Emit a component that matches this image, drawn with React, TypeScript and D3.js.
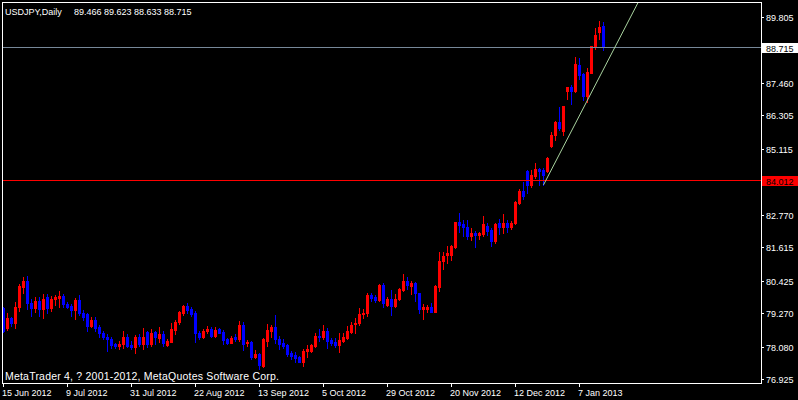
import { scaleLinear } from "d3";

// daily USDJPY bars, 15 Jun 2012 .. 15 Jan 2013
const opens = [
  79.446, 78.759, 79.091, 78.913, 79.505, 80.216, 80.417, 79.624, 79.47, 79.707,
  79.411, 79.837, 79.47, 79.766, 79.825, 79.884, 79.612, 79.529, 79.387, 79.742,
  79.269, 79.233, 78.831, 79.032, 78.795, 78.558, 78.44, 78.345, 78.191, 78.12,
  78.167, 78.416, 78.143, 78.084, 78.439, 78.179, 78.593, 78.179, 78.593, 78.404,
  78.522, 78.143, 78.262, 78.676, 78.948, 79.292, 79.528, 79.41, 79.292, 78.581,
  78.439, 78.652, 78.712, 78.463, 78.7, 78.617, 78.344, 78.226, 78.439, 78.344,
  78.854, 78.202, 78.262, 77.706, 77.824, 77.41, 78.298, 78.641, 78.772, 78.345,
  78.203, 78.144, 77.848, 77.789, 77.706, 77.552, 77.931, 77.931, 78.108, 78.476,
  78.416, 78.641, 78.322, 78.262, 78.144, 78.286, 78.404, 78.618, 78.878, 78.914,
  79.233, 79.269, 79.92, 79.85, 79.742, 80.275, 79.564, 79.778, 79.541, 79.766,
  80.097, 80.417, 80.239, 80.334, 79.979, 79.422, 79.422, 79.482, 79.328, 80.192,
  81.127, 81.34, 81.34, 81.636, 82.501, 82.442, 82.347, 82.015, 82.134, 82.051,
  82.074, 82.37, 82.228, 81.85, 82.465, 82.323, 82.489, 82.323, 82.465, 83.199,
  83.626, 84.324, 83.827, 84.146, 84.395, 84.36, 84.324, 85.212, 85.603, 86.076,
  85.745, 87.178, 87.296, 87.178, 88.089, 87.77, 87.0, 87.817, 88.74, 89.25,
  89.466,
];
const highs = [
  79.505, 79.269, 79.127, 79.659, 80.311, 80.547, 80.595, 79.766, 79.837, 79.837,
  79.955, 79.955, 79.884, 79.92, 80.062, 79.955, 79.683, 79.6, 79.801, 79.92,
  79.387, 79.292, 79.15, 79.127, 78.854, 78.641, 78.535, 78.416, 78.227, 78.286,
  78.641, 78.534, 78.285, 78.498, 78.534, 78.759, 78.652, 78.7, 78.652, 78.771,
  78.64, 78.356, 78.913, 79.031, 79.351, 79.564, 79.623, 79.481, 79.351, 78.652,
  78.7, 78.818, 78.771, 78.771, 78.759, 78.676, 78.38, 78.475, 78.534, 78.996,
  78.972, 78.321, 78.297, 77.966, 77.872, 78.404, 78.89, 78.854, 79.21, 78.464,
  78.345, 78.18, 77.931, 77.884, 77.753, 77.99, 78.144, 78.18, 78.582, 78.7,
  78.854, 78.736, 78.381, 78.381, 78.582, 78.582, 78.819, 78.973, 79.091, 79.47,
  79.411, 79.979, 79.979, 79.91, 80.31, 80.334, 79.837, 80.097, 79.943, 80.18,
  80.666, 80.547, 80.417, 80.393, 80.002, 79.6, 79.564, 79.647, 80.275, 81.459,
  81.435, 81.66, 81.696, 82.524, 82.82, 82.584, 82.584, 82.288, 82.193, 82.169,
  82.726, 82.465, 82.288, 82.465, 82.619, 82.797, 82.584, 82.56, 83.27, 83.673,
  83.945, 84.36, 84.36, 84.62, 84.442, 84.419, 84.833, 85.698, 86.112, 86.609,
  86.633, 87.296, 87.379, 88.385, 88.326, 87.817, 87.971, 88.776, 89.392, 89.652,
  89.623,
];
const lows = [
  78.617, 78.677, 78.819, 78.736, 79.363, 79.979, 79.411, 79.186, 79.304, 79.186,
  79.115, 79.269, 79.351, 79.565, 79.505, 79.482, 79.446, 79.186, 79.067, 79.209,
  79.032, 78.653, 78.795, 78.653, 78.416, 78.345, 77.931, 78.049, 78.025, 77.99,
  78.025, 78.084, 78.001, 77.871, 78.12, 78.001, 78.084, 78.12, 78.179, 78.262,
  78.12, 78.12, 78.238, 78.534, 78.877, 79.209, 79.268, 79.185, 78.262, 78.344,
  78.404, 78.581, 78.416, 78.416, 78.558, 78.167, 78.179, 78.202, 78.285, 78.297,
  77.966, 78.12, 77.646, 77.67, 77.28, 77.374, 78.12, 78.44, 78.227, 77.99,
  78.026, 77.765, 77.635, 77.552, 77.528, 77.398, 77.706, 77.884, 78.085, 78.286,
  78.345, 78.049, 78.144, 78.061, 77.907, 78.239, 78.357, 78.558, 78.582, 78.854,
  79.115, 79.186, 79.719, 79.67, 79.718, 79.482, 79.529, 79.209, 79.505, 79.742,
  80.062, 80.121, 79.943, 79.706, 79.292, 79.055, 79.328, 79.304, 79.304, 80.074,
  80.831, 81.044, 81.163, 81.601, 82.169, 82.027, 81.897, 81.873, 81.636, 81.897,
  82.027, 82.051, 81.672, 81.755, 82.086, 82.134, 82.169, 82.264, 82.442, 83.152,
  83.318, 83.531, 83.768, 84.087, 83.827, 83.827, 84.3, 85.188, 85.425, 85.78,
  85.603, 86.882, 86.704, 87.142, 87.58, 86.846, 86.787, 87.793, 88.646, 89.013,
  88.633,
];
const closes = [
  78.653, 79.091, 78.913, 79.482, 80.239, 80.417, 79.624, 79.47, 79.707, 79.411,
  79.778, 79.47, 79.766, 79.861, 79.896, 79.612, 79.494, 79.399, 79.742, 79.269,
  79.15, 78.831, 79.032, 78.759, 78.558, 78.44, 78.345, 78.144, 78.12, 78.191,
  78.416, 78.12, 78.084, 78.416, 78.179, 78.439, 78.179, 78.558, 78.416, 78.522,
  78.202, 78.285, 78.7, 78.948, 79.304, 79.528, 79.386, 79.244, 78.558, 78.416,
  78.64, 78.712, 78.463, 78.676, 78.581, 78.321, 78.226, 78.38, 78.344, 78.854,
  78.179, 78.262, 77.729, 77.812, 77.434, 78.357, 78.677, 78.772, 78.345, 78.18,
  78.108, 77.812, 77.753, 77.694, 77.552, 77.931, 77.99, 78.144, 78.464, 78.416,
  78.641, 78.286, 78.203, 78.144, 78.322, 78.44, 78.641, 78.854, 78.937, 79.245,
  79.292, 79.92, 79.825, 79.742, 80.275, 79.624, 79.778, 79.541, 79.778, 80.133,
  80.417, 80.275, 80.358, 79.979, 79.422, 79.482, 79.482, 79.328, 80.239, 81.127,
  81.305, 81.4, 81.66, 82.501, 82.406, 82.347, 82.015, 82.134, 82.051, 82.11,
  82.442, 82.193, 81.85, 82.442, 82.323, 82.489, 82.323, 82.489, 83.235, 83.626,
  83.436, 83.827, 84.182, 84.395, 84.324, 84.182, 84.798, 85.603, 86.076, 85.84,
  86.633, 87.296, 87.178, 88.125, 87.734, 87.0, 87.852, 88.764, 89.155, 89.451,
  88.715,
];

const dateLabels = [
  "15 Jun 2012", "9 Jul 2012", "31 Jul 2012", "22 Aug 2012", "13 Sep 2012",
  "5 Oct 2012", "29 Oct 2012", "20 Nov 2012", "12 Dec 2012", "7 Jan 2013",
];
const dateLabelBars = [0, 16, 32, 48, 64, 80, 96, 112, 128, 144];
// the two ticks hidden under the price boxes are left out
const priceTicks = [
  89.805, 87.46, 86.305, 85.115, 82.77, 81.615, 80.425, 79.27, 78.08, 76.925,
];
const bidPrice = 88.715;
const hLinePrice = 84.012;
const trendBars = [135, 150];
const trendPrices = [83.83, 87.94];

const W = 798;
const H = 400;
const left = 2;
const top = 2;
const right = 761;
const bottom = 383;
const font = "'Liberation Sans', Arial, sans-serif";

export default function App() {
  const n = closes.length;
  const x = scaleLinear().domain([0, n - 1]).range([3.5, 603.5]);
  const y = scaleLinear().domain([76.925, 89.805]).range([379.3, 16.7]);
  const py = (p: number) => Math.round(y(p));

  // trendline as a ray from the first anchor, clipped by the frame
  const slope = (trendPrices[1] - trendPrices[0]) / (trendBars[1] - trendBars[0]);
  const farBar = trendBars[0] + 60;
  const farPrice = trendPrices[0] + slope * 60;

  const last = n - 1;
  const ohlc = [opens[last], highs[last], lows[last], closes[last]]
    .map((v) => v.toFixed(3))
    .join(" ");

  return (
    <svg width={W} height={H} style={{ display: "block", background: "#000" }}>
      <style>{"body{margin:0;background:#000}"}</style>
      <defs>
        <clipPath id="plot">
          <rect x={left} y={top} width={right - left} height={bottom - top} />
        </clipPath>
      </defs>
      <rect width={W} height={H} fill="#000" />

      <g clipPath="url(#plot)" shapeRendering="crispEdges">
        {closes.map((c, i) => {
          const o = opens[i];
          const col = c > o ? "#ff0000" : "#0000ff";
          const cx = x(i);
          const y1 = Math.min(py(o), py(c));
          const y2 = Math.max(py(o), py(c));
          return (
            <g key={i}>
              <line
                x1={cx}
                x2={cx}
                y1={py(highs[i])}
                y2={py(lows[i]) + 1}
                stroke={col}
              />
              <rect x={cx - 1.5} y={y1} width={3} height={y2 - y1 + 1} fill={col} />
            </g>
          );
        })}
        <line
          x1={left}
          x2={right}
          y1={py(hLinePrice) + 0.5}
          y2={py(hLinePrice) + 0.5}
          stroke="#ff0000"
        />
        <line
          x1={left}
          x2={right}
          y1={py(bidPrice) + 0.5}
          y2={py(bidPrice) + 0.5}
          stroke="#778899"
        />
      </g>
      <g clipPath="url(#plot)">
        <line
          x1={x(trendBars[0])}
          y1={y(trendPrices[0])}
          x2={x(farBar)}
          y2={y(farPrice)}
          stroke="#aad4a0"
          strokeWidth={1}
        />
      </g>

      {/* frame */}
      <rect
        x={left + 0.5}
        y={top + 0.5}
        width={right - left}
        height={bottom - top}
        fill="none"
        stroke="#fff"
        shapeRendering="crispEdges"
      />

      {/* price axis */}
      <g fontFamily={font} fontSize={9} fill="#fff">
        {priceTicks.map((p) => (
          <g key={p}>
            <line
              x1={right}
              x2={right + 3}
              y1={py(p) + 0.5}
              y2={py(p) + 0.5}
              stroke="#fff"
              shapeRendering="crispEdges"
            />
            <text x={766} y={py(p) + 4}>
              {p.toFixed(3)}
            </text>
          </g>
        ))}
        <rect x={762} y={py(bidPrice) - 4} width={36} height={10} fill="#fff" />
        <text x={766} y={py(bidPrice) + 4.5} fill="#000">
          {bidPrice.toFixed(3)}
        </text>
        <rect x={762} y={py(hLinePrice) - 4} width={36} height={10} fill="#ff0000" />
        <text x={766} y={py(hLinePrice) + 4.5} fill="#000">
          {hLinePrice.toFixed(3)}
        </text>
      </g>

      {/* time axis */}
      <g fontFamily={font} fontSize={9} fill="#fff">
        {dateLabels.map((d, k) => {
          const tx = x(dateLabelBars[k]);
          return (
            <g key={d}>
              <line
                x1={tx}
                x2={tx}
                y1={bottom}
                y2={bottom + 4}
                stroke="#fff"
                shapeRendering="crispEdges"
              />
              <text x={tx - 1.5} y={396}>
                {d}
              </text>
            </g>
          );
        })}
      </g>

      <g fontFamily={font} fill="#fff">
        <text x={5} y={15} fontSize={9}>
          USDJPY,Daily
        </text>
        <text x={74} y={15} fontSize={9}>
          {ohlc}
        </text>
        <text x={5} y={380} fontSize={10.5} textLength={274} lengthAdjust="spacing">
          MetaTrader 4, ? 2001-2012, MetaQuotes Software Corp.
        </text>
      </g>
    </svg>
  );
}
